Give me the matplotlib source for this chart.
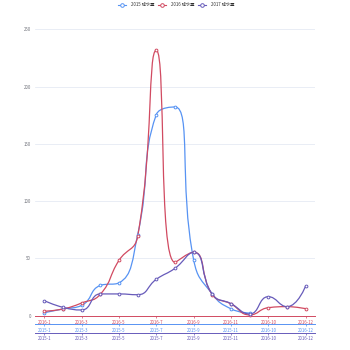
import matplotlib
matplotlib.use("Agg")
import matplotlib.pyplot as plt
import numpy as np
from matplotlib.path import Path
from matplotlib.patches import PathPatch
from matplotlib.lines import Line2D

plt.rcParams['font.family'] = ['Noto Sans CJK SC', 'DejaVu Sans']

# Category labels for the three stacked x axes
labels_2016 = ["2016-1", "2016-2", "2016-3", "2016-4", "2016-5", "2016-6", "2016-7",
               "2016-8", "2016-9", "2016-10", "2016-11", "2016-12", "2016-10",
               "2016-11", "2016-12"]
labels_2015 = ["2015-1", "2015-2", "2015-3", "2015-4", "2015-5", "2015-6", "2015-7",
               "2015-8", "2015-9", "2015-10", "2015-11", "2015-12", "2016-10",
               "2016-11", "2016-12"]
labels_2017 = list(labels_2015)

series_names = ["2015 降水量", "2016 降水量", "2017 降水量"]
rain_2015 = [2.6, 5.9, 9.0, 26.4, 28.7, 70.7, 175.6, 182.2, 48.7, 18.8, 6.0, 2.3]
rain_2016 = [3.9, 5.9, 11.1, 18.7, 48.3, 69.2, 231.6, 46.6, 55.4, 18.4, 10.3, 0.7,
             7.0, 7.9, 6.1]
rain_2017 = [13.1, 7.3, 5.0, 19.0, 19.0, 18.3, 31.8, 41.4, 55.3, 18.7, 10.5, 1.5,
             16.6, 7.9, 26.0]
y_ticks = [0, 50, 100, 150, 200, 250]

colors = ["#5793f3", "#d14a61", "#675bba"]
W = H = 350
DPI = 100

fig = plt.figure(figsize=(W / DPI, H / DPI), dpi=DPI)
left, right = 35, 315
top_px, bottom_px = 29.3, 315.7
ax = fig.add_axes([left / W, (H - bottom_px) / H, (right - left) / W,
                   (bottom_px - top_px) / H])
n_cat = len(labels_2016)
ax.set_xlim(-0.5, n_cat - 0.5)
ax.set_ylim(0, 250)
ax.set_yticks(y_ticks)
ax.set_yticklabels([str(v) for v in y_ticks])
ax.tick_params(axis='y', length=0, pad=3, labelsize=3.1, labelcolor="#6e7079")
ax.grid(axis='y', color="#E0E6F1", lw=0.5)
ax.set_axisbelow(True)
for s in ["left", "right", "top"]:
    ax.spines[s].set_visible(False)


def smooth_path(xs, ys, smooth=0.5):
    """Build a smoothed bezier path in display space and return it in data space."""
    pts = ax.transData.transform(np.column_stack([xs, ys]))
    n = len(pts)
    verts = [pts[0]]
    codes = [Path.MOVETO]
    cp0 = pts[0].copy()
    for k in range(1, n):
        x, y = pts[k]
        px, py = pts[k - 1]
        if k >= n - 1:
            cp1 = np.array([x, y])
            nxt_cp0 = np.array([x, y])
        else:
            nx, ny = pts[k + 1]
            vx, vy = nx - px, ny - py
            l0 = np.hypot(x - px, y - py)
            l1 = np.hypot(nx - x, ny - y)
            ratio = l1 / (l1 + l0)
            ncx = x + vx * smooth * ratio
            ncy = y + vy * smooth * ratio
            ncx = min(ncx, max(nx, x)); ncx = max(ncx, min(nx, x))
            ncy = min(ncy, max(ny, y)); ncy = max(ncy, min(ny, y))
            vx, vy = ncx - x, ncy - y
            c1x = x - vx * l0 / l1
            c1y = y - vy * l0 / l1
            c1x = min(c1x, max(px, x)); c1x = max(c1x, min(px, x))
            c1y = min(c1y, max(py, y)); c1y = max(c1y, min(py, y))
            vx, vy = x - c1x, y - c1y
            ncx = x + vx * l1 / l0
            ncy = y + vy * l1 / l0
            cp1 = np.array([c1x, c1y])
            nxt_cp0 = np.array([ncx, ncy])
        verts += [cp0, cp1, np.array([x, y])]
        codes += [Path.CURVE4] * 3
        cp0 = nxt_cp0
    verts = ax.transData.inverted().transform(np.array(verts))
    return Path(verts, codes)


for vals, col in zip([rain_2015, rain_2016, rain_2017], colors):
    xs = np.arange(len(vals))
    ax.add_patch(PathPatch(smooth_path(xs, vals), fill=False, edgecolor=col,
                           lw=0.9, zorder=3, clip_on=False))
    ax.plot(xs, vals, 'o', ms=2.0, mfc="white", mec=col, mew=0.7, zorder=4,
            clip_on=False)

label_idx = list(range(0, n_cat, 2))


def style_xaxis(a, labels, col, offset):
    a.set_xlim(-0.5, n_cat - 0.5)
    a.set_xticks(label_idx)
    a.set_xticklabels([labels[i] for i in label_idx])
    a.tick_params(axis='x', length=1.6, width=0.5, color=col, pad=1.2,
                  labelsize=3.1, labelcolor=col, direction='out')
    a.spines['bottom'].set_color(col)
    a.spines['bottom'].set_linewidth(0.7)
    if offset:
        a.spines['bottom'].set_position(('outward', offset))


style_xaxis(ax, labels_2016, colors[1], 0)
for lab, col, off in [(labels_2015, colors[0], 6.1), (labels_2017, colors[2], 12.1)]:
    a2 = ax.twiny()
    a2.patch.set_visible(False)
    for s in ["left", "right", "top"]:
        a2.spines[s].set_visible(False)
    a2.xaxis.set_ticks_position('bottom')
    a2.xaxis.set_label_position('bottom')
    style_xaxis(a2, lab, col, off)

# Legend across the top
for i, (name, col) in enumerate(zip(series_names, colors)):
    cx = 121.7 + 40 * i
    cy = H - 5.0
    fig.add_artist(Line2D([(cx - 4) / W, (cx + 4) / W], [cy / H, cy / H],
                          color=col, lw=0.8, transform=fig.transFigure))
    fig.add_artist(Line2D([cx / W], [cy / H], marker='o', ms=2.6, mfc="white",
                          mec=col, mew=0.7, transform=fig.transFigure))
    fig.text((cx + 9.5) / W, cy / H, name, fontsize=3.1, color="#333333",
             va='center', ha='left')

fig.savefig("out.png", dpi=DPI)
